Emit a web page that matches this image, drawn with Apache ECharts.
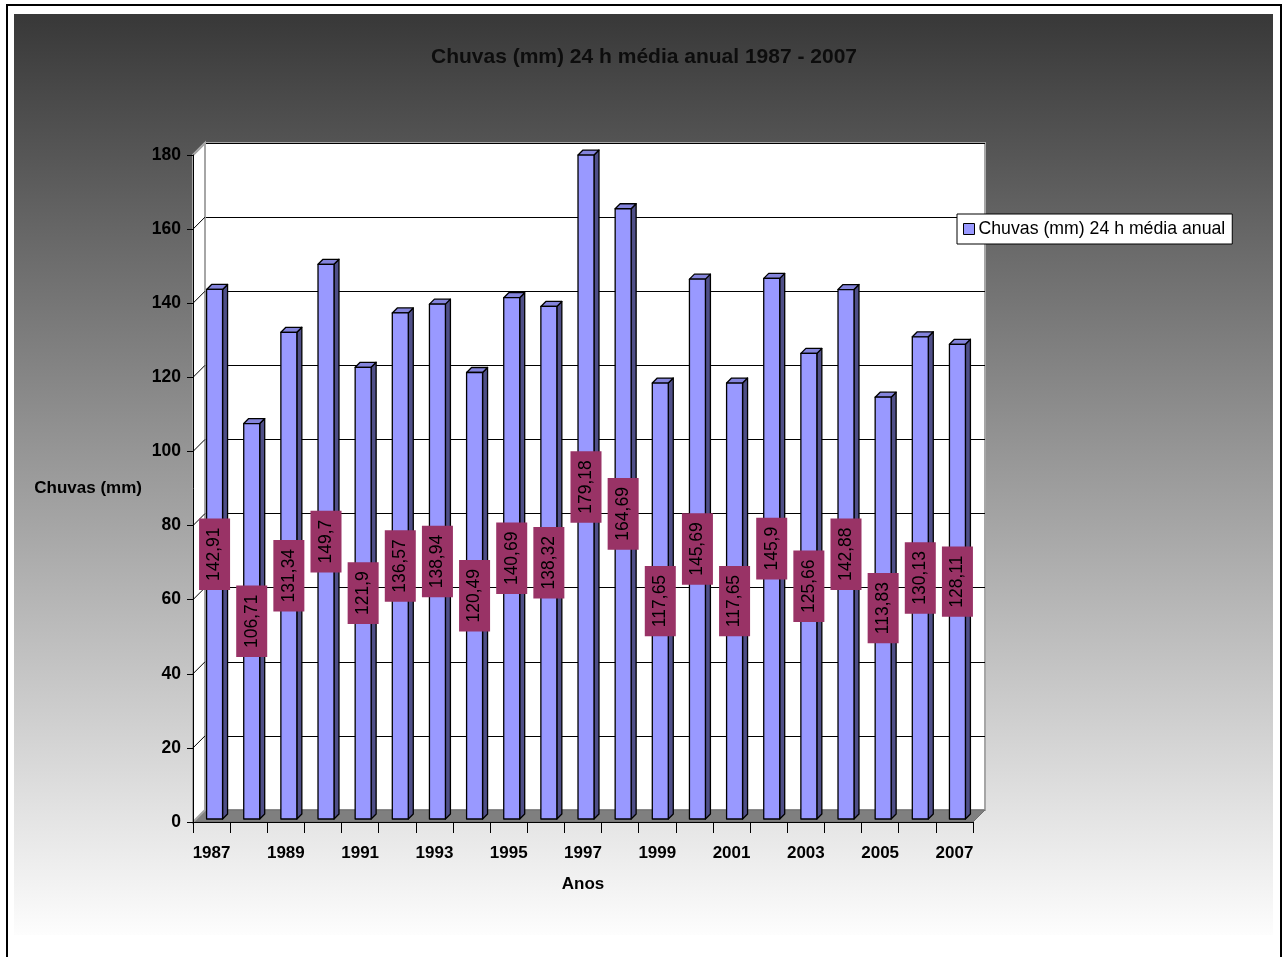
<!DOCTYPE html>
<html>
<head>
<meta charset="utf-8">
<script src="https://cdn.jsdelivr.net/npm/echarts@6/dist/echarts.min.js"></script>
<style>
  html, body { margin: 0; padding: 0; background: #fff; }
  #chart { width: 1288px; height: 957px; }
</style>
</head>
<body>
<div id="chart"></div>
<script>
// Annual mean 24 h rainfall (mm), 1987 - 2007
const years = ['1987', '1988', '1989', '1990', '1991', '1992', '1993', '1994', '1995', '1996', '1997',
               '1998', '1999', '2000', '2001', '2002', '2003', '2004', '2005', '2006', '2007'];
const rainfall = [142.91, 106.71, 131.34, 149.7, 121.9, 136.57, 138.94, 120.49, 140.69, 138.32, 179.18,
                  164.69, 117.65, 145.69, 117.65, 145.9, 125.66, 142.88, 113.83, 130.13, 128.11];
const yTicks = [0, 20, 40, 60, 80, 100, 120, 140, 160, 180];

const SERIES_NAME = 'Chuvas (mm) 24 h média anual';
const FONT = '"Liberation Sans", Arial, sans-serif';

// pseudo-3D geometry: wall depth offset, bar inset and bar depth (px)
const WALL_D = 12;
const BAR_SHIFT = 3;
const BAR_D = 5;

const chart = echarts.init(document.getElementById('chart'), null, { renderer: 'canvas' });

function fmt(v) { return String(v).replace('.', ','); }

// floor, left side wall and its diagonal grid lines
function renderWalls(params, api) {
  const cs = params.coordSys;
  const L = cs.x, R = cs.x + cs.width, T = cs.y, B = cs.y + cs.height, D = WALL_D;
  const children = [
    { type: 'polygon', shape: { points: [[L, B], [L + D, B - D], [R + D, B - D], [R, B]] },
      style: { fill: '#7f7f7f', stroke: '#6e6e6e', lineWidth: 1 } },
    { type: 'polygon', shape: { points: [[L, B], [L + D, B - D], [L + D, T - D], [L, T]] },
      style: { fill: '#ffffff', stroke: '#a6a6a6', lineWidth: 2 } }
  ];
  const last = yTicks[yTicks.length - 1];
  yTicks.forEach(function (t) {
    if (t === 0) return;
    const y = api.coord([0, t])[1];
    children.push({ type: 'line', shape: { x1: L, y1: y, x2: L + D, y2: y - D },
      style: { stroke: t === last ? '#a6a6a6' : '#000', lineWidth: t === last ? 2 : 1 } });
  });
  return { type: 'group', children: children };
}

// one 3D column: side, top and front faces plus its value label
function renderBar(params, api) {
  const i = api.value(0), v = api.value(1);
  const top = api.coord([i, v]);
  const base = api.coord([i, 0]);
  const w = api.size([1, 0])[0] * 0.43;
  const x0 = top[0] - w / 2 + BAR_SHIFT, x1 = x0 + w;
  const yT = top[1] - BAR_SHIFT, yB = base[1] - BAR_SHIFT, d = BAR_D;
  const edge = { stroke: '#000', lineWidth: 1.3, lineJoin: 'round' };
  return {
    type: 'group',
    children: [
      { type: 'polygon', shape: { points: [[x1, yT], [x1 + d, yT - d], [x1 + d, yB - d], [x1, yB]] },
        style: Object.assign({ fill: '#4f4f88' }, edge) },
      { type: 'polygon', shape: { points: [[x0, yT], [x0 + d, yT - d], [x1 + d, yT - d], [x1, yT]] },
        style: Object.assign({ fill: '#8484dc' }, edge) },
      { type: 'rect', shape: { x: x0, y: yT, width: w, height: yB - yT },
        style: Object.assign({ fill: '#9999ff' }, edge) },
      { type: 'text', x: (x0 + x1) / 2, y: (yT + yB) / 2, rotation: Math.PI / 2, z2: 100,
        style: { text: fmt(v), fill: '#000', font: '17.5px ' + FONT, align: 'center', verticalAlign: 'middle',
                 backgroundColor: '#993366', padding: [7, 9, 6, 9] } }
    ]
  };
}

const option = {
  backgroundColor: '#ffffff',
  animation: false,
  graphic: {
    elements: [
      { type: 'rect', z: -20, silent: true,
        shape: { x: 14, y: 14, width: 1259, height: 921 },
        style: { fill: new echarts.graphic.LinearGradient(0, 0, 0, 1, [
          { offset: 0, color: '#383838' }, { offset: 1, color: '#fdfdfd' }]) } },
      { type: 'rect', z: -19, silent: true,
        shape: { x: 7, y: 5, width: 1274, height: 1000 },
        style: { fill: null, stroke: '#000', lineWidth: 2 } }
    ]
  },
  title: {
    text: 'Chuvas (mm) 24 h média anual 1987 - 2007',
    left: 'center', top: 42,
    textStyle: { fontFamily: FONT, fontWeight: 'bold', fontSize: 21, color: '#0d0d0d' }
  },
  legend: {
    data: [{ name: SERIES_NAME, itemStyle: { color: '#9999ff', borderColor: '#000', borderWidth: 1 } }],
    left: 957, top: 214,
    icon: 'rect', itemWidth: 11, itemHeight: 11, itemGap: 5,
    padding: [6, 7, 6, 6],
    backgroundColor: '#fff', borderColor: '#000', borderWidth: 1,
    textStyle: { fontFamily: FONT, fontSize: 17.7, color: '#000', padding: [0, 0, 0, -1] }
  },
  grid: [
    // front plane: axes and columns
    { left: 193, top: 155, width: 780, height: 667 },
    // back wall
    { left: 193 + WALL_D, top: 155 - WALL_D, width: 780, height: 667, show: true,
      backgroundColor: '#ffffff', borderColor: '#a6a6a6', borderWidth: 2 }
  ],
  xAxis: [
    { type: 'category', gridIndex: 0, data: years, boundaryGap: true, z: 5,
      axisLine: { lineStyle: { color: '#000', width: 1 } },
      axisTick: { show: true, interval: 0, length: 11, lineStyle: { color: '#000' } },
      axisLabel: { interval: 1, margin: 23, color: '#000', fontFamily: FONT, fontWeight: 'bold', fontSize: 17 },
      name: 'Anos', nameLocation: 'middle', nameGap: 54,
      nameTextStyle: { color: '#000', fontFamily: FONT, fontWeight: 'bold', fontSize: 17 } },
    { type: 'category', gridIndex: 1, data: years, boundaryGap: true, show: false }
  ],
  yAxis: [
    { type: 'value', gridIndex: 0, min: 0, max: 180, interval: 20, z: 5,
      axisLine: { show: true, lineStyle: { color: '#000', width: 1 } },
      axisTick: { show: true, length: 6, lineStyle: { color: '#000' } },
      axisLabel: { margin: 12, color: '#000', fontFamily: FONT, fontWeight: 'bold', fontSize: 17.5 },
      splitLine: { show: false },
      name: 'Chuvas (mm)', nameLocation: 'middle', nameRotate: 0, nameGap: 51,
      nameTextStyle: { color: '#000', fontFamily: FONT, fontWeight: 'bold', fontSize: 17, align: 'right' } },
    { type: 'value', gridIndex: 1, min: 0, max: 180, interval: 20,
      axisLine: { show: false }, axisTick: { show: false }, axisLabel: { show: false },
      splitLine: { show: true, lineStyle: { color: '#000', width: 1 } } }
  ],
  series: [
    { type: 'custom', xAxisIndex: 0, yAxisIndex: 0, z: 1, silent: true,
      data: [[0, 0]], renderItem: renderWalls },
    { type: 'custom', name: SERIES_NAME, xAxisIndex: 0, yAxisIndex: 0, z: 3,
      itemStyle: { color: '#9999ff' },
      encode: { x: 0, y: 1 },
      data: rainfall.map(function (v, i) { return [i, v]; }),
      renderItem: renderBar }
  ]
};

chart.setOption(option);
</script>
</body>
</html>
